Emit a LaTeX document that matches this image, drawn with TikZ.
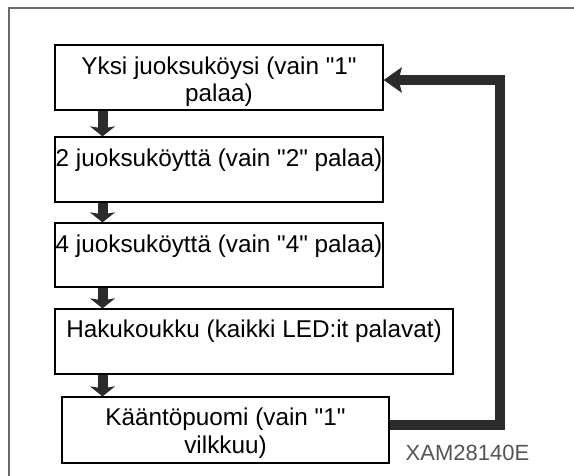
\documentclass[tikz,border=0pt]{standalone}
\usepackage{fontspec}
\setmainfont[Ligatures=TeXOff]{Liberation Sans}
\usetikzlibrary{arrows.meta}
\definecolor{arrowcol}{HTML}{2B2B2B}
\definecolor{framecol}{HTML}{6A6A6A}
\definecolor{labelcol}{HTML}{555555}
\begin{document}
\begin{tikzpicture}[x=1pt,y=-1pt,
  stepbox/.style={draw=black, line width=1.3pt, minimum height=65pt, inner sep=0pt},
  boxtext/.style={anchor=north, inner sep=0pt, align=center, font=\fontsize{24.3}{27.5}\selectfont},
  flow/.style={draw=arrowcol, line width=10pt, -{Stealth[length=10pt, width=25pt, inset=2pt]}},
  loopline/.style={draw=arrowcol, line width=10pt, line join=miter, -{Stealth[length=18pt, width=25pt, inset=3pt]}}]
\useasboundingbox (0,0) rectangle (574,475);
% frame
\draw[framecol, line width=2.2pt] (8.7,476) -- (8.7,8) -- (575,8);
% boxes
\node[stepbox, minimum width=328pt] (b1) at (219,77.5) {};
\node[stepbox, minimum width=328pt] (b2) at (219,169.5) {};
\node[stepbox, minimum width=328pt, minimum height=64pt] (b3) at (219,255) {};
\node[stepbox, minimum width=398pt] (b4) at (254,341.5) {};
\node[stepbox, minimum width=327pt, minimum height=66pt] (b5) at (225.5,430) {};
% texts
\node[boxtext] (t1) at ([yshift=-12pt]b1.north) {Yksi juoksuköysi (vain "1"\\palaa)};
\node[boxtext] (t2) at ([yshift=-12pt]b2.north) {2 juoksuköyttä (vain "2" palaa)};
\node[boxtext] (t3) at ([yshift=-12pt]b3.north) {4 juoksuköyttä (vain "4" palaa)};
\node[boxtext] (t4) at ([yshift=-11.5pt]b4.north) {Hakukoukku (kaikki LED:it palavat)};
\node[boxtext] (t5) at ([yshift=-11.5pt]b5.north) {Kääntöpuomi (vain "1"\\vilkkuu)};
% connectors
\coordinate (ax) at (102.5,0);
\draw[flow] (b1.south -| ax) -- (b2.north -| ax);
\draw[flow] (b2.south -| ax) -- (b3.north -| ax);
\draw[flow] (b3.south -| ax) -- (b4.north -| ax);
\draw[flow] (b4.south -| ax) -- (b5.north -| ax);
\coordinate (lr) at (500,0);
\coordinate (ly5) at (0,424.5);
\coordinate (ly1) at (0,80);
\draw[loopline] (b5.east |- ly5) -| (lr |- ly1) -- (b1.east |- ly1);
% label
\node[text=labelcol, font=\fontsize{22}{24}\selectfont, inner sep=0pt] (lab) at (467.5,453) {XAM28140E};
\end{tikzpicture}
\end{document}
